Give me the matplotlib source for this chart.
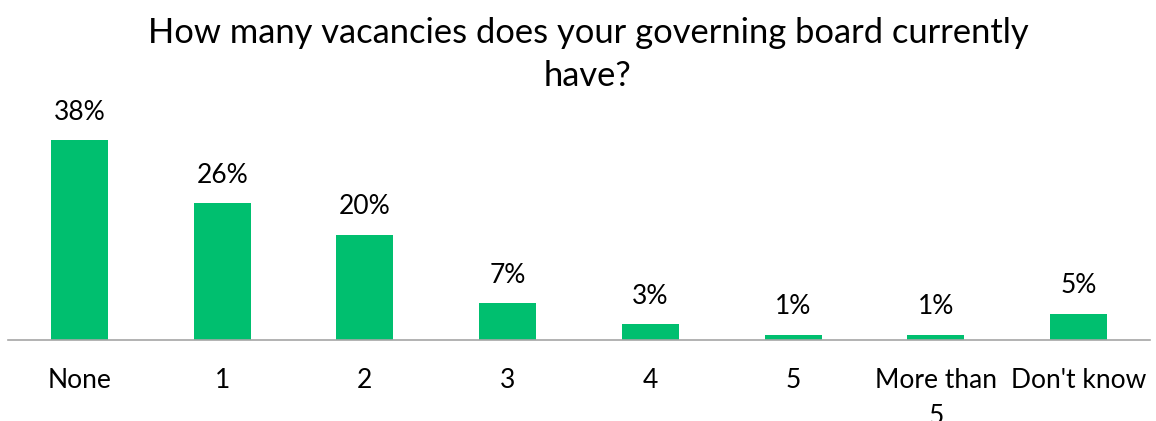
import matplotlib
matplotlib.use("Agg")
from matplotlib import pyplot as plt

# survey answers
categories = ["None", "1", "2", "3", "4", "5", "More than\n5", "Don't know"]
shares = [38, 26, 20, 7, 3, 1, 1, 5]
title = "How many vacancies does your governing board currently\nhave?"

green = "#00BF6F"
plt.rcParams["font.family"] = ["Lato", "DejaVu Sans"]

fig = plt.figure(figsize=(11.56, 4.21), dpi=100)
ax = fig.add_axes([8 / 1156, 81 / 421, 1142 / 1156, 210.5 / 421])

x = range(len(categories))
bars = ax.bar(x, shares, width=0.4, color=green)
ax.set_xlim(-0.5, len(categories) - 0.5)
ax.set_ylim(0, 40)

for b, v in zip(bars, shares):
    ax.annotate(f"{v}%", (b.get_x() + b.get_width() / 2, v), xytext=(0, 11),
                textcoords="offset points", ha="center", va="bottom",
                fontsize=19, color="#000000", annotation_clip=False)

ax.set_xticks(list(x))
ax.set_xticklabels(categories, fontsize=19, linespacing=1.55, va="top")
ax.tick_params(axis="x", length=0, pad=20)
ax.set_yticks([])
for side in ["top", "right", "left"]:
    ax.spines[side].set_visible(False)
ax.spines["bottom"].set_color("#A6A6A6")
ax.spines["bottom"].set_linewidth(1.2)

fig.text(588 / 1156, 1 - 17 / 421, title, ha="center", va="top", fontsize=24.8,
         linespacing=1.42)

fig.savefig("out.png", dpi=100)
